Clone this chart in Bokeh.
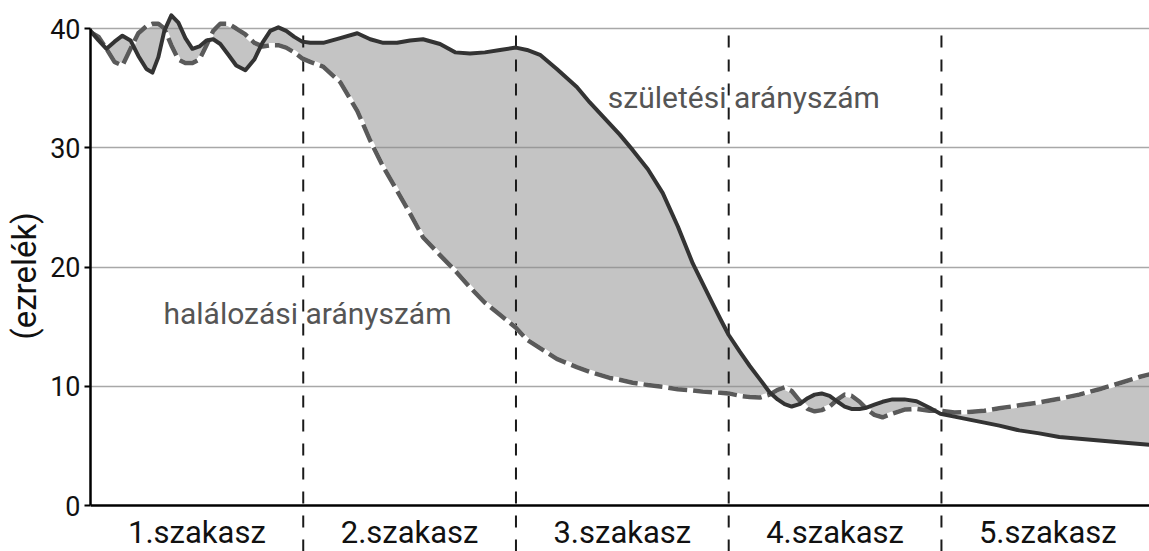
from bokeh.plotting import figure
from bokeh.models import Range1d, FixedTicker, ColumnDataSource
from bokeh.core.properties import value
from bokeh.embed import file_html
from bokeh.resources import INLINE

# ---- data -------------------------------------------------------------
stages = ["1.szakasz", "2.szakasz", "3.szakasz", "4.szakasz", "5.szakasz"]
stage_bounds = [1, 2, 3, 4]
y_ticks = [0, 10, 20, 30, 40]

x = [0, 0.038, 0.075, 0.113, 0.150, 0.188, 0.225, 0.263, 0.291, 0.319, 0.347, 0.380,
     0.413, 0.446, 0.479, 0.512, 0.545, 0.577, 0.610, 0.648, 0.685, 0.728, 0.770,
     0.808, 0.845, 0.883, 0.920, 0.958, 0.995,
     1.033, 1.094, 1.174, 1.254, 1.315, 1.376, 1.441, 1.502, 1.563, 1.643, 1.714,
     1.784, 1.854, 1.925, 2.0,
     2.052, 2.113, 2.192, 2.286, 2.347, 2.441, 2.488, 2.549, 2.620, 2.690, 2.761,
     2.831, 2.878, 2.925, 2.962, 3.0,
     3.052, 3.099, 3.146, 3.192, 3.230, 3.263, 3.296, 3.333, 3.371, 3.404, 3.437,
     3.474, 3.512, 3.545, 3.577, 3.615, 3.648, 3.685, 3.723, 3.770, 3.826, 3.883,
     3.944, 3.995,
     4.061, 4.131, 4.202, 4.272, 4.366, 4.460, 4.554, 4.648, 4.742, 4.836, 4.934,
     4.978]

birth = [39.8, 39.0, 38.3, 38.9, 39.4, 39.0, 37.7, 36.6, 36.3, 37.6, 39.8, 41.1,
         40.5, 39.2, 38.3, 38.5, 39.0, 39.1, 38.7, 37.8, 36.9, 36.5, 37.4, 38.8,
         39.8, 40.1, 39.8, 39.3, 38.9,
         38.8, 38.8, 39.2, 39.6, 39.1, 38.8, 38.8, 39.0, 39.1, 38.7, 38.0, 37.9,
         38.0, 38.2, 38.4,
         38.2, 37.8, 36.6, 35.1, 33.8, 32.0, 31.1, 29.8, 28.2, 26.2, 23.4,
         20.3, 18.6, 16.9, 15.6, 14.3,
         12.9, 11.7, 10.6, 9.5, 8.9, 8.5, 8.3, 8.5, 9.0, 9.3, 9.4, 9.2, 8.7, 8.3,
         8.1, 8.1, 8.2, 8.45, 8.7, 8.9, 8.9, 8.75, 8.2, 7.7,
         7.45, 7.2, 6.95, 6.7, 6.3, 6.05, 5.75, 5.6, 5.45, 5.3, 5.15, 5.1]

death = [39.7, 39.3, 38.3, 37.2, 36.9, 38.3, 39.6, 40.2, 40.4, 40.4, 40.0, 38.6,
         37.4, 37.1, 37.1, 37.4, 38.6, 39.8, 40.4, 40.4, 40.0, 39.5, 38.8, 38.5,
         38.6, 38.6, 38.4, 38.0, 37.5,
         37.2, 36.8, 35.5, 33.1, 30.6, 28.4, 26.4, 24.5, 22.5, 21.0, 19.7, 18.3,
         17.0, 16.0, 14.9,
         13.9, 13.2, 12.3, 11.6, 11.2, 10.7, 10.55, 10.3, 10.1, 9.95, 9.75,
         9.65, 9.55, 9.5, 9.45, 9.4,
         9.2, 9.1, 9.05, 9.3, 9.7, 9.9, 9.6, 8.8, 8.1, 7.9, 8.0, 8.3, 8.9, 9.3,
         9.2, 8.7, 8.1, 7.6, 7.4, 7.7, 8.05, 8.1, 7.95, 7.95,
         7.8, 7.85, 7.95, 8.15, 8.4, 8.65, 8.95, 9.3, 9.75, 10.25, 10.8, 11.0]

label_birth = "születési arányszám"
label_death = "halálozási arányszám"
y_label = "(ezrelék)"

# ---- figure -----------------------------------------------------------
SANS = "Roboto"
X_END = 4.978
Y_MIN, Y_MAX = -3.857, 42.35

p = figure(width=1149, height=551, title=None,
           x_range=Range1d(0, X_END), y_range=Range1d(Y_MIN, Y_MAX),
           toolbar_location=None, output_backend="svg",
           min_border_left=90, min_border_right=0,
           min_border_top=0, min_border_bottom=0)
p.outline_line_color = None
p.background_fill_color = "white"
p.border_fill_color = "white"

src = ColumnDataSource(dict(x=x, birth=birth, death=death))

# fill between the two rates
p.varea(x="x", y1="birth", y2="death", source=src,
        fill_color="#8a8a8a", fill_alpha=0.5)

# stage separators (run down through the label row)
p.segment(x0=stage_bounds, y0=[Y_MIN] * len(stage_bounds),
          x1=stage_bounds, y1=[40] * len(stage_bounds),
          line_color="#1a1a1a", line_width=2, line_dash="12 12")

# death rate: grey dashes with white gaps
p.line(x="x", y="death", source=src, line_color="white", line_width=4.5,
       line_join="round")
p.line(x="x", y="death", source=src, line_color="#5a5a5a", line_width=4.5,
       line_dash="19 6", line_join="round")

# birth rate
p.line(x="x", y="birth", source=src, line_color="#333333", line_width=4,
       line_join="round", line_cap="round")

# annotations
p.text(x=[2.432], y=[34.2], text=[label_birth], text_font=value(SANS),
       text_font_size="30px", text_color="#555555", text_baseline="alphabetic")
p.text(x=[0.343], y=[16.1], text=[label_death], text_font=value(SANS),
       text_font_size="30px", text_color="#555555", text_baseline="alphabetic")

# ---- axes -------------------------------------------------------------
xt = FixedTicker(ticks=[i + 0.5 for i in range(len(stages))], minor_ticks=[])
p.xaxis.ticker = xt
p.xaxis.fixed_location = 0
p.xaxis.major_label_overrides = {i + 0.5: s for i, s in enumerate(stages)}
p.xaxis.major_tick_line_color = None
p.xaxis.minor_tick_line_color = None
p.xaxis.major_tick_out = 0
p.xaxis.major_tick_in = 0
p.xaxis.axis_line_color = "black"
p.xaxis.axis_line_width = 2.5
p.xaxis.major_label_text_font = SANS
p.xaxis.major_label_text_font_size = "31px"
p.xaxis.major_label_text_color = "#111111"
p.xaxis.major_label_standoff = 8

p.yaxis.ticker = FixedTicker(ticks=y_ticks, minor_ticks=[])
p.yaxis.bounds = (0, 40)
p.yaxis.axis_label = y_label
p.yaxis.axis_label_text_font = SANS
p.yaxis.axis_label_text_font_size = "33px"
p.yaxis.axis_label_text_font_style = "normal"
p.yaxis.axis_label_text_color = "#111111"
p.yaxis.axis_label_standoff = 3
p.yaxis.major_label_text_font = SANS
p.yaxis.major_label_text_font_size = "27px"
p.yaxis.major_label_text_color = "#111111"
p.yaxis.major_label_standoff = 4
p.yaxis.major_tick_out = 6
p.yaxis.major_tick_in = 0
p.yaxis.major_tick_line_color = "black"
p.yaxis.major_tick_line_width = 2
p.yaxis.minor_tick_line_color = None
p.yaxis.axis_line_color = "black"
p.yaxis.axis_line_width = 2.5

p.xgrid.visible = False
p.ygrid.ticker = FixedTicker(ticks=y_ticks[1:], minor_ticks=[])
p.ygrid.grid_line_color = "#a8a8a8"
p.ygrid.grid_line_width = 1.5

open("out.html", "w").write(file_html(p, INLINE))
